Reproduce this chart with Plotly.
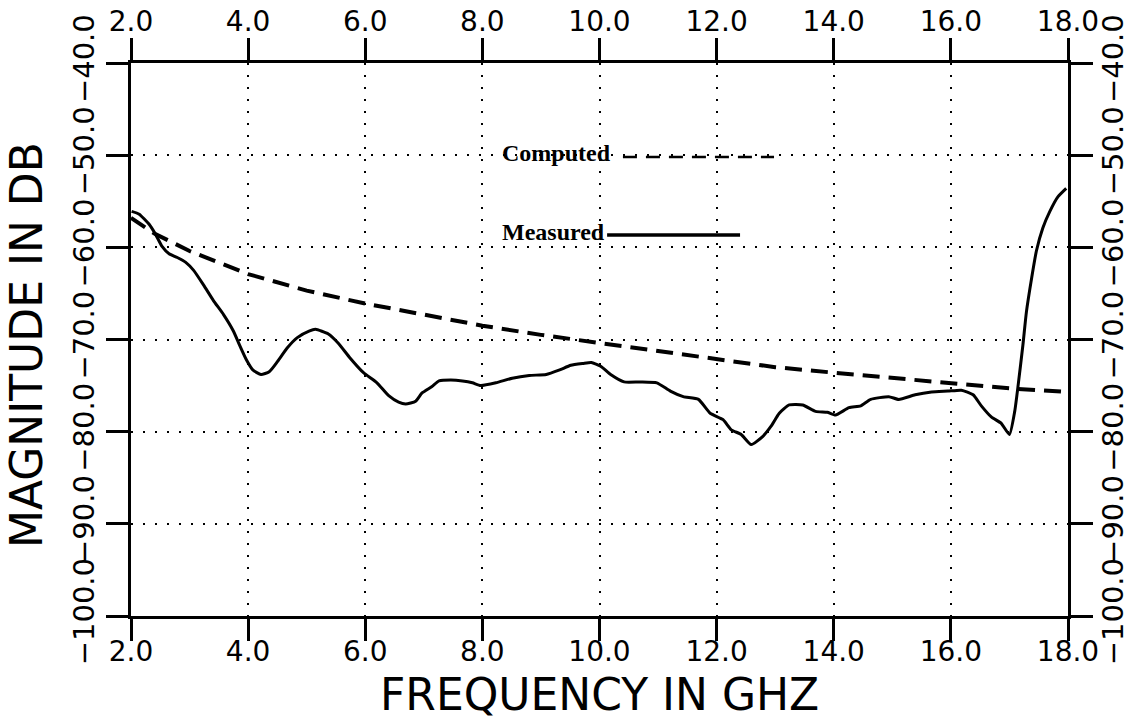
import plotly.graph_objects as go

# ---- data ----
computed_x = [2.0, 2.4, 3.0, 4.0, 5.0, 6.0, 7.0, 8.0, 9.0, 10.0, 11.0, 12.0, 13.0, 14.0, 15.0, 16.0, 17.0, 18.0]
computed_y = [-56.8, -58.5, -60.4, -62.9, -64.7, -66.1, -67.3, -68.5, -69.5, -70.4, -71.3, -72.2, -73.0, -73.6, -74.2, -74.8, -75.3, -75.7]

measured_x = [2.01, 2.14, 2.31, 2.42, 2.53, 2.65, 2.79, 2.93, 3.07, 3.24, 3.41, 3.58, 3.75, 3.86, 3.97,
              4.08, 4.22, 4.36, 4.50, 4.67, 4.84, 5.04, 5.15, 5.37, 5.54, 5.74, 5.97, 6.20, 6.40, 6.57,
              6.69, 6.86, 6.97, 7.14, 7.26, 7.46, 7.66, 7.83, 7.97, 8.23, 8.51, 8.80, 9.09, 9.32, 9.51,
              9.72, 9.86, 10.02, 10.19, 10.42, 10.70, 10.98, 11.21, 11.43, 11.69, 11.89, 12.11, 12.25,
              12.42, 12.59, 12.79, 12.93, 13.07, 13.24, 13.47, 13.69, 13.89, 14.03, 14.26, 14.46, 14.63,
              14.94, 15.11, 15.39, 15.67, 15.95, 16.18, 16.38, 16.52, 16.69, 16.86, 17.00, 17.09, 17.15,
              17.23, 17.29, 17.38, 17.46, 17.57, 17.69, 17.83, 17.97]
measured_y = [-56.1, -56.4, -57.5, -58.6, -59.9, -60.7, -61.1, -61.6, -62.5, -64.1, -65.8, -67.3, -69.1, -70.7, -72.2,
              -73.3, -73.8, -73.5, -72.4, -70.9, -69.8, -69.1, -68.9, -69.4, -70.4, -72.0, -73.6, -74.7, -76.1, -76.8,
              -77.0, -76.7, -75.8, -75.1, -74.5, -74.4, -74.5, -74.7, -75.0, -74.7, -74.2, -73.9, -73.8, -73.3, -72.8,
              -72.6, -72.5, -72.9, -73.8, -74.6, -74.6, -74.7, -75.6, -76.2, -76.5, -78.0, -78.7, -79.8,
              -80.3, -81.4, -80.5, -79.4, -78.0, -77.1, -77.1, -77.8, -77.9, -78.2, -77.4, -77.2, -76.5,
              -76.2, -76.5, -76.0, -75.7, -75.6, -75.5, -76.0, -77.2, -78.4, -79.1, -80.3, -77.8, -74.9,
              -70.6, -67.0, -63.3, -60.4, -57.9, -56.1, -54.5, -53.6]

x_ticks = [2, 4, 6, 8, 10, 12, 14, 16, 18]
x_ticktext = ["2.0", "4.0", "6.0", "8.0", "10.0", "12.0", "14.0", "16.0", "18.0"]
y_ticks = [-100, -90, -80, -70, -60, -50, -40]
y_ticktext = ["\u2212100.0", "\u221290.0", "\u221280.0", "\u221270.0", "\u221260.0", "\u221250.0", "\u221240.0"]

legend_labels = ["Computed", "Measured"]
legend_text_x = [8.35, 8.35]
legend_text_y = [-49.8, -58.3]
legend_computed_x = [10.40, 12.98]
legend_computed_y = [-50.2, -50.2]
legend_measured_x = [10.13, 12.40]
legend_measured_y = [-58.65, -58.65]

X_RANGE = [2, 18]
Y_RANGE = [-100, -40]

fig = go.Figure()

fig.add_trace(go.Scatter(x=computed_x, y=computed_y, mode="lines",
                         line=dict(color="black", width=4, dash="17px,9px"),
                         showlegend=False, hoverinfo="skip"))
fig.add_trace(go.Scatter(x=measured_x, y=measured_y, mode="lines",
                         line=dict(color="black", width=3, shape="spline", smoothing=0.5),
                         showlegend=False, hoverinfo="skip"))
# legend keys
fig.add_trace(go.Scatter(x=legend_computed_x, y=legend_computed_y, mode="lines",
                         line=dict(color="black", width=2.5, dash="14px,9px"),
                         showlegend=False, hoverinfo="skip"))
fig.add_trace(go.Scatter(x=legend_measured_x, y=legend_measured_y, mode="lines",
                         line=dict(color="black", width=3.5),
                         showlegend=False, hoverinfo="skip"))
# invisible trace so the mirrored axes are drawn
fig.add_trace(go.Scatter(x=computed_x, y=computed_y, xaxis="x2", yaxis="y2", mode="lines",
                         line=dict(color="rgba(0,0,0,0)", width=0), showlegend=False, hoverinfo="skip"))

for lab, lx, ly in zip(legend_labels, legend_text_x, legend_text_y):
    fig.add_annotation(x=lx, y=ly, xref="x", yref="y", text="<b>" + lab + "</b>",
                       showarrow=False, xanchor="left", yanchor="middle", xshift=-3,
                       font=dict(family="Liberation Serif", size=24, color="black"))

tickfont_x = dict(family="DejaVu Sans", size=28, color="black")
tickfont_y = dict(family="DejaVu Sans", size=29, color="black")

common_x = dict(range=X_RANGE, tickmode="array", tickvals=x_ticks, ticktext=x_ticktext,
                ticks="outside", ticklen=22, tickwidth=3, tickcolor="black",
                showline=True, linewidth=3, linecolor="black", zeroline=False,
                tickfont=tickfont_x, fixedrange=True, automargin=False)
common_y = dict(range=Y_RANGE, tickmode="array", tickvals=y_ticks, ticktext=y_ticktext,
                ticks="outside", ticklen=22, tickwidth=3, tickcolor="black",
                showline=True, linewidth=3, linecolor="black", zeroline=False,
                tickangle=-90, tickfont=tickfont_y, fixedrange=True, automargin=False)

fig.update_layout(
    width=1129, height=721,
    margin=dict(l=131, r=61, t=63, b=105, autoexpand=False),
    paper_bgcolor="white", plot_bgcolor="white",
    xaxis=dict(**common_x, side="bottom", showgrid=True, gridcolor="black", gridwidth=1.6,
               griddash="2px,10px", ticklabelstandoff=-14),
    yaxis=dict(**common_y, side="left", showgrid=True, gridcolor="black", gridwidth=1.6,
               griddash="2px,10px"),
    xaxis2=dict(**common_x, side="top", overlaying="x", anchor="y", showgrid=False,
                ticklabelstandoff=-4),
    yaxis2=dict(**common_y, side="right", overlaying="y", anchor="x", showgrid=False,
                ticklabelstandoff=-5),
    showlegend=False,
)

fig.add_annotation(x=0.5, y=-0.142, xref="paper", yref="paper", text="FREQUENCY IN GHZ",
                   showarrow=False, xanchor="center", yanchor="middle",
                   font=dict(family="DejaVu Sans", size=44, color="black"))
fig.add_annotation(x=-0.112, y=0.49, xref="paper", yref="paper", text="MAGNITUDE IN DB",
                   showarrow=False, xanchor="center", yanchor="middle", textangle=-90,
                   font=dict(family="DejaVu Sans", size=44, color="black"))

fig.write_html("out.html")
